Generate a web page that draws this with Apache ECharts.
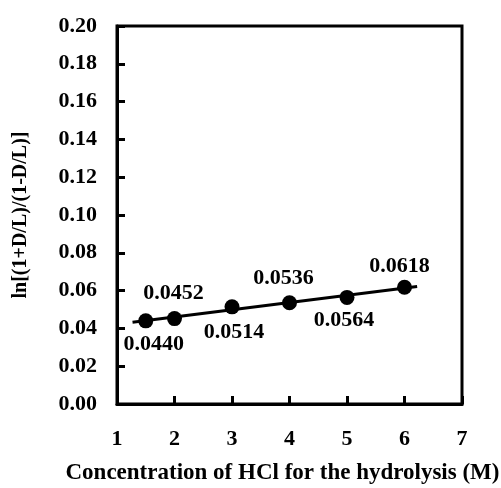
<!DOCTYPE html>
<html><head><meta charset="utf-8">
<script src="https://cdn.jsdelivr.net/npm/echarts@6/dist/echarts.min.js"></script>
<style>html,body{margin:0;padding:0;background:#fff}#c{width:501px;height:488px}</style>
</head><body><div id="c"></div>
<script>
const concentrations = [1.5, 2, 3, 4, 5, 6];
const lnValues = [0.0440, 0.0452, 0.0514, 0.0536, 0.0564, 0.0618];
const labelSides = ['bottom', 'top', 'bottom', 'top', 'bottom', 'top'];
const labelShiftX = [8, -1, 2, -6, -3, -5];
const labelGap = [4.5, 6.5, 7, 6, 4.5, 2];
const fitLineX = [1.27, 6.22];
const fitLineY = [0.0433, 0.0622];
const yTicks = { min: 0, max: 0.2, step: 0.02 };
const xTicks = { min: 1, max: 7, step: 1 };

const font = 'Liberation Serif';
const chart = echarts.init(document.getElementById('c'), null, { renderer: 'canvas' });
chart.setOption({
  animation: false,
  grid: { left: 117, top: 26, right: 39, bottom: 84, outerBoundsMode: 'none', containLabel: false, show: true, borderColor: '#000', borderWidth: 3, backgroundColor: 'transparent' },
  xAxis: {
    type: 'value', min: xTicks.min, max: xTicks.max, interval: xTicks.step,
    axisLine: { lineStyle: { color: '#000', width: 3 } },
    axisTick: { inside: true, length: 8, lineStyle: { color: '#000', width: 3 } },
    splitLine: { show: false },
    axisLabel: { color: '#000', fontFamily: font, fontWeight: 'bold', fontSize: 22, margin: 24 },
    name: 'Concentration of HCl for the hydrolysis (M)', nameLocation: 'middle', nameGap: 58,
    nameTextStyle: { color: '#000', fontFamily: font, fontWeight: 'bold', fontSize: 23, padding: [0, 14, 0, 0] }
  },
  yAxis: {
    type: 'value', min: yTicks.min, max: yTicks.max, interval: yTicks.step,
    axisLine: { lineStyle: { color: '#000', width: 3 } },
    axisTick: { inside: true, length: 8, lineStyle: { color: '#000', width: 3 } },
    splitLine: { show: false },
    axisLabel: { color: '#000', fontFamily: font, fontWeight: 'bold', fontSize: 22, margin: 20, formatter: v => v.toFixed(2) },
    name: 'ln[(1+D/L)/(1-D/L)]', nameLocation: 'middle', nameGap: 86,
    nameTextStyle: { color: '#000', fontFamily: font, fontWeight: 'bold', fontSize: 20 }
  },
  series: [
    {
      type: 'line', data: fitLineX.map((x, i) => [x, fitLineY[i]]),
      symbol: 'none', lineStyle: { color: '#000', width: 3 }, z: 2
    },
    {
      type: 'scatter', symbolSize: 15, itemStyle: { color: '#000', opacity: 1 }, z: 3,
      data: concentrations.map((x, i) => ({
        value: [x, lnValues[i]],
        label: {
          show: true, position: labelSides[i], distance: labelGap[i],
          offset: [labelShiftX[i], 0],
          formatter: () => lnValues[i].toFixed(4),
          color: '#000', fontFamily: font, fontWeight: 'bold', fontSize: 22
        }
      }))
    }
  ]
});
</script></body></html>
